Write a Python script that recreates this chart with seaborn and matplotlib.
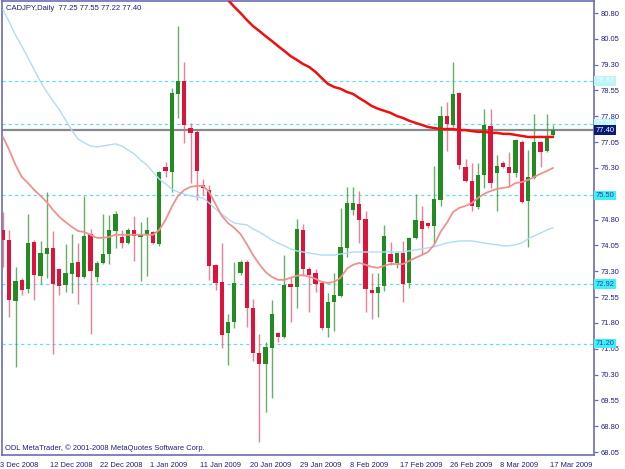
import numpy as np
import pandas as pd
import matplotlib
matplotlib.use("Agg")
import matplotlib.pyplot as plt
from matplotlib.transforms import ScaledTranslation
import seaborn as sns

# ---------------- data ----------------
title = "CADJPY,Daily  77.25 77.55 77.22 77.40"
footer = "ODL MetaTrader, \u00a9 2001-2008 MetaQuotes Software Corp."

date_labels = ["3 Dec 2008", "12 Dec 2008", "22 Dec 2008", "1 Jan 2009", "11 Jan 2009",
               "20 Jan 2009", "29 Jan 2009", "8 Feb 2009", "17 Feb 2009", "26 Feb 2009",
               "8 Mar 2009", "17 Mar 2009"]
date_label_bars = [0, 8, 16, 24, 32, 40, 48, 56, 64, 72, 80, 88]

opens = [74.50, 74.21, 72.44, 73.05, 72.79, 74.15, 73.17, 73.80, 73.98, 73.37,
         72.90, 73.22, 73.57, 73.14, 74.38, 73.14, 73.54, 73.80, 74.47, 74.30,
         74.12, 74.50, 74.30, 74.36, 74.44, 74.09, 76.33, 76.18, 78.45, 78.83,
         77.46, 77.35, 75.81, 75.66, 73.49, 72.99, 71.51, 71.83, 73.25, 73.57,
         72.24, 70.93, 70.61, 71.08, 71.51, 71.39, 72.93, 72.84, 74.50, 73.37,
         73.25, 72.96, 71.66, 72.41, 72.58, 73.98, 75.08, 75.25, 74.82, 72.76,
         72.67, 72.87, 73.80, 73.54, 73.83, 72.96, 74.27, 74.76, 74.70, 74.62,
         75.37, 77.81, 77.55, 78.48, 76.33, 75.92, 75.17, 76.10, 77.52, 76.15,
         76.44, 76.33, 76.15, 77.06, 75.34, 76.01, 77.06, 76.79, 77.25]
highs = [75.02, 74.50, 73.43, 73.11, 74.96, 74.21, 74.18, 75.60, 74.47, 73.40,
         74.09, 74.38, 74.12, 75.49, 74.53, 73.60, 74.96, 74.93, 75.05, 74.50,
         74.56, 74.91, 74.73, 74.88, 74.47, 76.21, 76.47, 78.63, 80.42, 79.38,
         77.61, 77.40, 75.98, 75.81, 73.51, 74.12, 72.06, 73.57, 73.63, 73.63,
         72.50, 71.48, 71.25, 72.47, 71.54, 73.77, 73.14, 74.82, 74.67, 73.43,
         73.37, 72.99, 72.67, 73.25, 75.14, 75.75, 75.75, 75.63, 75.05, 73.25,
         73.25, 74.65, 74.15, 73.86, 74.18, 74.30, 75.55, 75.20, 74.73, 76.36,
         78.10, 78.22, 79.38, 78.51, 76.56, 76.44, 76.44, 78.02, 78.02, 76.68,
         76.50, 76.76, 77.14, 77.11, 76.82, 77.87, 77.08, 77.87, 77.55]
lows = [73.43, 71.98, 70.53, 72.61, 72.67, 72.47, 72.93, 73.11, 70.90, 72.61,
        72.70, 72.67, 72.35, 73.11, 71.48, 72.99, 73.51, 73.51, 73.98, 73.98,
        74.09, 73.60, 73.02, 73.17, 74.09, 74.04, 76.04, 75.60, 77.75, 77.03,
        75.86, 75.37, 75.52, 73.05, 72.76, 71.08, 70.58, 71.66, 73.19, 71.68,
        70.70, 68.34, 69.21, 69.62, 71.25, 71.37, 71.83, 72.24, 73.17, 72.12,
        72.70, 71.60, 71.39, 71.57, 72.55, 73.72, 74.94, 74.12, 72.12, 71.92,
        71.98, 72.73, 73.48, 73.40, 72.41, 72.81, 74.24, 73.80, 74.56, 74.12,
        75.20, 76.79, 77.49, 76.27, 75.89, 75.05, 75.11, 75.72, 75.72, 75.05,
        76.30, 75.78, 76.04, 75.28, 74.01, 75.98, 76.33, 76.76, 77.22]
closes = [74.21, 72.47, 73.02, 72.76, 74.12, 73.19, 73.83, 73.98, 72.93, 72.87,
          73.25, 73.54, 73.14, 74.33, 73.31, 73.54, 73.80, 74.50, 74.96, 74.12,
          74.50, 74.33, 74.38, 74.50, 74.12, 76.18, 76.21, 78.48, 78.83, 77.55,
          77.32, 76.21, 75.72, 73.46, 72.96, 71.45, 71.83, 72.96, 73.57, 72.24,
          70.93, 70.61, 71.10, 72.06, 71.39, 72.90, 72.84, 74.53, 73.37, 73.19,
          72.93, 71.66, 72.41, 72.61, 74.01, 75.28, 75.28, 74.79, 72.79, 72.67,
          72.84, 74.33, 73.57, 73.83, 72.93, 74.27, 74.79, 74.53, 74.62, 75.40,
          77.81, 77.58, 78.45, 76.39, 75.92, 75.20, 76.10, 77.55, 75.86, 76.36,
          76.33, 76.15, 77.11, 75.31, 76.04, 77.06, 76.76, 77.23, 77.40]

ma_fast = [77.20, 76.82, 76.39, 76.04, 75.86, 75.66, 75.49, 75.31, 75.08, 74.88,
           74.73, 74.59, 74.47, 74.44, 74.36, 74.27, 74.27, 74.30, 74.36, 74.36,
           74.36, 74.36, 74.36, 74.36, 74.36, 74.50, 74.79, 75.17, 75.49, 75.66,
           75.75, 75.78, 75.78, 75.60, 75.25, 74.91, 74.70, 74.56, 74.38, 74.09,
           73.77, 73.51, 73.28, 73.14, 73.05, 73.05, 73.11, 73.17, 73.19, 73.14,
           73.08, 72.99, 72.96, 72.99, 73.11, 73.37, 73.49, 73.54, 73.49, 73.43,
           73.40, 73.46, 73.51, 73.51, 73.51, 73.60, 73.69, 73.77, 73.86, 74.07,
           74.44, 74.70, 75.02, 75.14, 75.20, 75.28, 75.43, 75.55, 75.63, 75.69,
           75.72, 75.75, 75.86, 75.89, 75.95, 76.04, 76.13, 76.21, 76.30]
ma_mid = [80.89, 80.54, 80.16, 79.84, 79.50, 79.15, 78.80, 78.51, 78.25, 77.99,
          77.70, 77.40, 77.14, 77.03, 76.94, 76.91, 76.94, 76.97, 77.00, 76.94,
          76.82, 76.71, 76.53, 76.39, 76.18, 75.98, 75.84, 75.69, 75.60, 75.54,
          75.49, 75.46, 75.43, 75.28, 75.11, 74.96, 74.82, 74.70, 74.67, 74.65,
          74.53, 74.44, 74.33, 74.21, 74.12, 74.04, 73.95, 73.89, 73.86, 73.83,
          73.80, 73.77, 73.77, 73.77, 73.80, 73.83, 73.86, 73.86, 73.86, 73.86,
          73.86, 73.86, 73.86, 73.86, 73.86, 73.89, 73.92, 73.95, 73.98, 74.01,
          74.07, 74.12, 74.15, 74.18, 74.18, 74.18, 74.15, 74.12, 74.09, 74.07,
          74.04, 74.04, 74.07, 74.12, 74.24, 74.33, 74.41, 74.50, 74.56]
ma_slow_first_bar = 35
ma_slow = [81.33, 81.18, 80.98, 80.80, 80.60, 80.42, 80.28, 80.13, 79.99, 79.84,
           79.70, 79.55, 79.44, 79.32, 79.23, 79.09, 78.91, 78.74, 78.65, 78.60,
           78.51, 78.45, 78.33, 78.22, 78.10, 78.02, 77.96, 77.90, 77.81, 77.75,
           77.67, 77.61, 77.55, 77.49, 77.46, 77.43, 77.43, 77.43, 77.40, 77.40,
           77.37, 77.35, 77.35, 77.32, 77.32, 77.29, 77.29, 77.26, 77.23, 77.20,
           77.20, 77.20, 77.20, 77.20]

level_prices = [78.83, 77.58, 75.50, 72.92, 71.20]
level_labels = ["78.83", "77.58", "75.50", "72.92", "71.20"]
level_faded = [True, True, False, False, False]
bid_price = 77.40
bid_label = "77.40"

ytick_values = [68.05, 68.80, 69.55, 70.30, 71.05, 71.80, 72.55, 73.30, 74.05,
                74.80, 75.55, 76.30, 77.05, 77.80, 78.55, 79.30, 80.05, 80.80]
# the 75.55 label is hidden under the 75.50 level box in the original
ytick_labels = ["68.05", "68.80", "69.55", "70.30", "71.05", "71.80", "72.55", "73.30",
                "74.05", "74.80", "", "76.30", "77.05", "77.80", "78.55", "79.30",
                "80.05", "80.80"]

# ---------------- style ----------------
sns.set_style("white")
plt.rcParams["font.family"] = ["Liberation Sans", "DejaVu Sans"]

TXT = "#1e1e7e"
FRAME = "#6c6cb4"
GREEN = "#228B22"
RED = "#DC143C"

W, H = 625, 469
fig = plt.figure(figsize=(W / 100, H / 100), dpi=100)
fig.patch.set_facecolor("white")
ax = fig.add_axes([2 / W, 1 - 455 / H, 592 / W, 454 / H])
ax.set_facecolor("white")

n = len(opens)
bars = np.arange(n)
o = np.array(opens); c = np.array(closes)
hi = np.array(highs); lo = np.array(lows)
up = c >= o

# level lines
for lp in level_prices:
    ax.axhline(lp, color="#55e2ee", lw=0.9, ls=(0, (2.5, 2.5)), zorder=1)
ax.axhline(bid_price, color="#8a8a8a", lw=1.6, zorder=1.5)

# candles
wick_cols = np.where(up, "#4aa24a", "#ec6a80")
ax.vlines(bars, lo, hi, colors=wick_cols, lw=1.0, alpha=0.85, zorder=2)
body_bottom = np.minimum(o, c)
body_h = np.maximum(np.abs(c - o), 0.03)
ax.bar(bars, body_h, bottom=body_bottom, width=0.68,
       color=np.where(up, GREEN, RED), linewidth=0, zorder=3)

# moving averages
df = pd.DataFrame({
    "bar": bars,
    "fast": ma_fast,
    "mid": ma_mid,
    "slow": [np.nan] * ma_slow_first_bar + ma_slow,
})
sns.lineplot(data=df, x="bar", y="mid", color="#afdcf4", lw=1.0, ax=ax, zorder=4)
sns.lineplot(data=df, x="bar", y="fast", color="#f29090", lw=1.3, ax=ax, zorder=4)
sns.lineplot(data=df, x="bar", y="slow", color="#ee1010", lw=1.8, ax=ax, zorder=4)

# axes limits
ax.set_xlim(-0.16, 94.56)
ax.set_ylim(67.963, 81.149)
ax.set_xlabel("")
ax.set_ylabel("")

# spines
for s in ax.spines.values():
    s.set_visible(True)
    s.set_color(FRAME)
    s.set_linewidth(1.2)

# y ticks on right
ax.yaxis.tick_right()
ax.set_yticks(ytick_values)
ax.set_yticklabels(ytick_labels)
ax.tick_params(axis="y", which="both", direction="out", length=3, width=0.9,
               color=FRAME, labelcolor=TXT, labelsize=5.4, pad=2, left=False, right=True)

# x ticks
ax.set_xticks(date_label_bars)
ax.set_xticklabels(date_labels)
ax.tick_params(axis="x", direction="out", length=3.5, width=0.9, color=FRAME,
               labelcolor=TXT, labelsize=5.4, pad=1.5)
off = ScaledTranslation(-2.5 / 100, 0, fig.dpi_scale_trans)
for lab in ax.get_xticklabels():
    lab.set_ha("left")
    lab.set_transform(lab.get_transform() + off)

# right-side level labels
ytr = ax.get_yaxis_transform()
for lp, lt, faded in zip(level_prices, level_labels, level_faded):
    fc = "#bdf4f8" if faded else "#3ff0f4"
    tc = "#f4ffff" if faded else "#2a40b0"
    ax.text(1.003, lp, lt, transform=ytr, ha="left", va="center", fontsize=5.4,
            color=tc, clip_on=False, zorder=6,
            bbox=dict(boxstyle="square,pad=0.18", fc=fc, ec="none"))
ax.text(1.003, bid_price, bid_label, transform=ytr, ha="left", va="center",
        fontsize=5.4, color="white", clip_on=False, zorder=7,
        bbox=dict(boxstyle="square,pad=0.18", fc="#0a1a78", ec="none"))

# texts
fig.text(6 / W, 1 - 8 / H, title, ha="left", va="center", fontsize=5.5, color=TXT)
fig.text(5 / W, 1 - 448 / H, footer, ha="left", va="center", fontsize=5.4, color=TXT)

fig.savefig("out.png", dpi=100, facecolor="white")
